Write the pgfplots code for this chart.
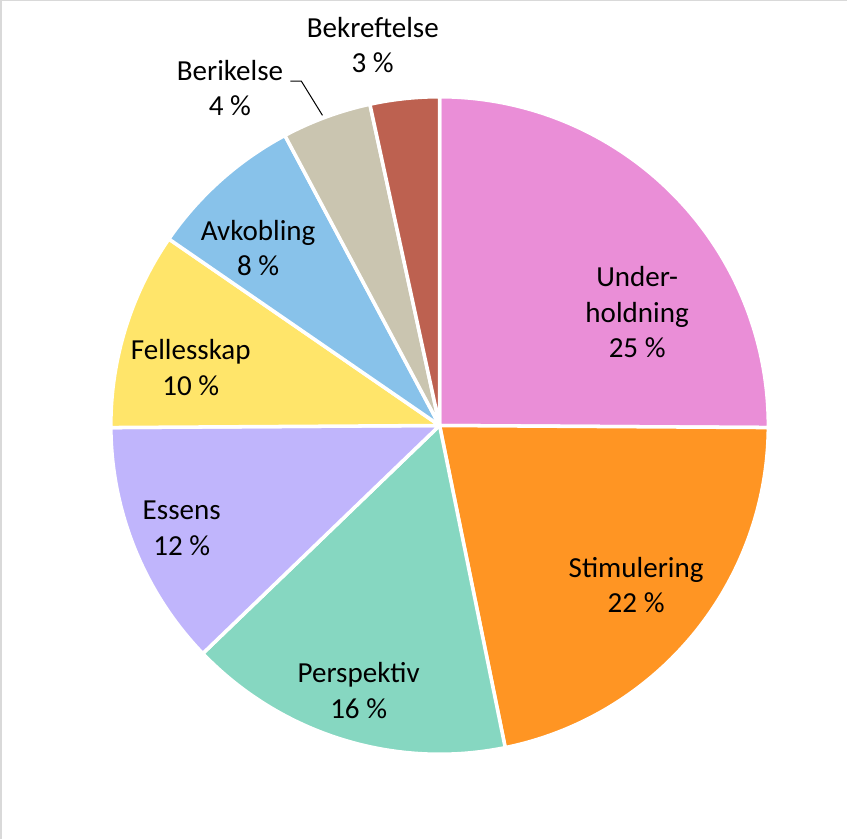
\documentclass[border=0pt]{standalone}
\usepackage{pgfplots}
\pgfplotsset{compat=1.18}
\usepackage{fontspec}
\setmainfont{Carlito}

\definecolor{cUnd}{HTML}{EA8ED7}
\definecolor{cStim}{HTML}{FF9523}
\definecolor{cPersp}{HTML}{86D7C1}
\definecolor{cEss}{HTML}{C0B5FC}
\definecolor{cFell}{HTML}{FFE56A}
\definecolor{cAvk}{HTML}{88C2EA}
\definecolor{cBerik}{HTML}{CAC5B0}
\definecolor{cBekr}{HTML}{BD6150}
\definecolor{frame}{HTML}{D9D9D9}

% shares (percent), clockwise from 12 o'clock
\def\vUnd{25.1}
\def\vStim{21.7}
\def\vPersp{16.0}
\def\vEss{12.1}
\def\vFell{9.7}
\def\vAvk{7.6}
\def\vBerik{4.4}
\def\vBekr{3.4}

\def\cx{442.5}
\def\cy{411.5}
\def\R{327}

\pgfmathsetmacro\aA{90}
\pgfmathsetmacro\aB{\aA-3.6*\vUnd}
\pgfmathsetmacro\aC{\aB-3.6*\vStim}
\pgfmathsetmacro\aD{\aC-3.6*\vPersp}
\pgfmathsetmacro\aE{\aD-3.6*\vEss}
\pgfmathsetmacro\aF{\aE-3.6*\vFell}
\pgfmathsetmacro\aG{\aF-3.6*\vAvk}
\pgfmathsetmacro\aH{\aG-3.6*\vBerik}
\pgfmathsetmacro\aI{\aH-3.6*\vBekr}

\newcommand{\slice}[3]{%
  \addplot[fill=#3, draw=white, line width=3.5bp, line join=round,
    domain=#2:#1, samples=90, variable=\t]
    ({\cx+\R*cos(t)},{\cy+\R*sin(t)}) -- (axis cs:\cx,\cy) -- cycle;
}

\begin{document}
\begin{tikzpicture}
\begin{axis}[
  width=848bp, height=839bp, scale only axis,
  xmin=0, xmax=848, ymin=0, ymax=839,
  hide axis, clip=false,
]
\draw[frame, line width=1.5bp] (axis cs:6,0) -- (axis cs:6,834) -- (axis cs:848,834);
\slice{\aA}{\aB}{cUnd}
\slice{\aB}{\aC}{cStim}
\slice{\aC}{\aD}{cPersp}
\slice{\aD}{\aE}{cEss}
\slice{\aE}{\aF}{cFell}
\slice{\aF}{\aG}{cAvk}
\slice{\aG}{\aH}{cBerik}
\slice{\aH}{\aI}{cBekr}

\draw[black, line width=1bp] (axis cs:294,754) -- (axis cs:305,754) -- (axis cs:326,720);

\tikzset{lab/.style={align=center, font=\fontsize{29}{35.5}\selectfont, text=black, inner sep=0pt}}
\node[lab] at (axis cs:639,524) {Under-\\holdning\\25 \%};
\node[lab] at (axis cs:638,253) {Stimulering\\22 \%};
\node[lab] at (axis cs:362,148) {Perspektiv\\16 \%};
\node[lab] at (axis cs:186,309) {Essens\\12 \%};
\node[lab] at (axis cs:195,469) {Fellesskap\\10 \%};
\node[lab] at (axis cs:262,588) {Avkobling\\8 \%};
\node[lab] at (axis cs:234,747) {Berikelse\\4 \%};
\node[lab] at (axis cs:376,790) {Bekreftelse\\3 \%};
\end{axis}
\end{tikzpicture}
\end{document}
